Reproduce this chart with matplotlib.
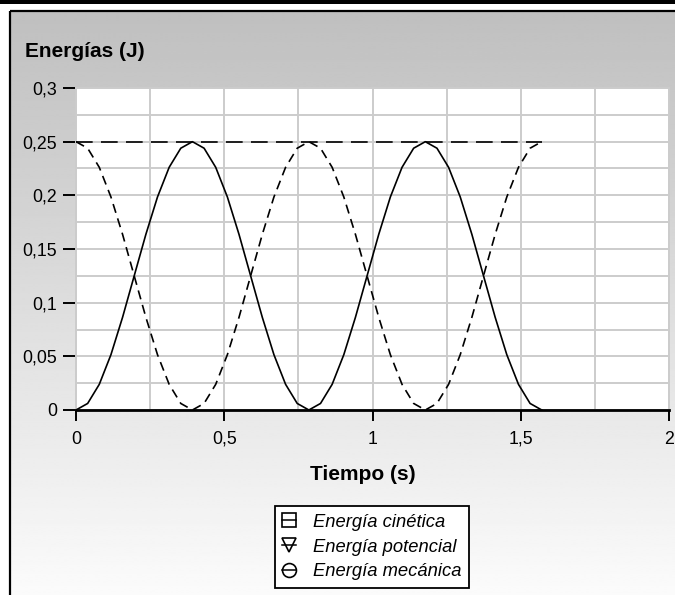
import matplotlib
matplotlib.use("Agg")
import matplotlib.pyplot as plt
import numpy as np
from matplotlib.lines import Line2D
from matplotlib.ticker import MultipleLocator, FixedLocator

plt.rcParams['font.family'] = ['Liberation Sans', 'DejaVu Sans']

# ---- data ----
tiempo = [0, 0.0393, 0.0785, 0.1178, 0.1571, 0.1963, 0.2356, 0.2749, 0.3142, 0.3534,
          0.3927, 0.4320, 0.4712, 0.5105, 0.5498, 0.5890, 0.6283, 0.6676, 0.7069, 0.7461,
          0.7854, 0.8247, 0.8639, 0.9032, 0.9425, 0.9817, 1.0210, 1.0603, 1.0996, 1.1388,
          1.1781, 1.2174, 1.2566, 1.2959, 1.3352, 1.3744, 1.4137, 1.4530, 1.4923, 1.5315,
          1.5708]
e_cinetica = [0, 0.0061, 0.0239, 0.0515, 0.0864, 0.125, 0.1636, 0.1985, 0.2261, 0.2439,
              0.25, 0.2439, 0.2261, 0.1985, 0.1636, 0.125, 0.0864, 0.0515, 0.0239, 0.0061,
              0, 0.0061, 0.0239, 0.0515, 0.0864, 0.125, 0.1636, 0.1985, 0.2261, 0.2439,
              0.25, 0.2439, 0.2261, 0.1985, 0.1636, 0.125, 0.0864, 0.0515, 0.0239, 0.0061,
              0]
e_potencial = [0.25, 0.2439, 0.2261, 0.1985, 0.1636, 0.125, 0.0864, 0.0515, 0.0239, 0.0061,
               0, 0.0061, 0.0239, 0.0515, 0.0864, 0.125, 0.1636, 0.1985, 0.2261, 0.2439,
               0.25, 0.2439, 0.2261, 0.1985, 0.1636, 0.125, 0.0864, 0.0515, 0.0239, 0.0061,
               0, 0.0061, 0.0239, 0.0515, 0.0864, 0.125, 0.1636, 0.1985, 0.2261, 0.2439,
               0.25]
e_mecanica = [0.25] * 41

x_ticks = [0, 0.5, 1, 1.5, 2]
x_labels = ['0', '0,5', '1', '1,5', '2']
y_ticks = [0, 0.05, 0.1, 0.15, 0.2, 0.25, 0.3]
y_labels = ['0', '0,05', '0,1', '0,15', '0,2', '0,25', '0,3']
series_names = ['Energía cinética', 'Energía potencial', 'Energía mecánica']

W, H = 675, 595
fig = plt.figure(figsize=(W / 100, H / 100), dpi=100)
fig.patch.set_facecolor('white')

# ---- background frame with gradient ----
bg = fig.add_axes([0, 0, 1, 1], zorder=0)
bg.axis('off')
grad = np.linspace(0.75, 0.985, 256).reshape(-1, 1)
bg.imshow(grad, cmap='gray', vmin=0, vmax=1, aspect='auto',
          extent=[10, W + 1, H + 1, 11], interpolation='bilinear')
bg.fill_between([0, W], 0, 4, color='black', lw=0)
bg.plot([10, 10], [11, H + 1], color='black', lw=1.6, solid_capstyle='butt')
bg.plot([10, W + 1], [11, 11], color='black', lw=1.6, solid_capstyle='butt')
bg.set_xlim(0, W)
bg.set_ylim(H, 0)

# ---- main axes ----
ax = fig.add_axes([76 / W, 185 / H, 593 / W, 322 / H], zorder=1)
ax.set_facecolor('white')
ax.set_xlim(0, 2)
ax.set_ylim(0, 0.3)

gridc = '#cccccc'
ax.xaxis.set_minor_locator(MultipleLocator(0.25))
ax.yaxis.set_minor_locator(MultipleLocator(0.025))
ax.grid(which='both', color=gridc, lw=1.4, zorder=0)
ax.set_axisbelow(True)

ax.xaxis.set_major_locator(FixedLocator(x_ticks))
ax.set_xticklabels(x_labels)
ax.yaxis.set_major_locator(FixedLocator(y_ticks))
ax.set_yticklabels(y_labels)
ax.tick_params(which='minor', length=0)
ax.tick_params(axis='x', which='major', direction='out', length=8, width=1.4,
               color='black', labelsize=12.8, pad=7)
ax.tick_params(axis='y', which='major', direction='out', length=9.5, width=1.4,
               color='black', labelsize=12.8, pad=4)

for s in ['left', 'top', 'right']:
    ax.spines[s].set_color(gridc)
    ax.spines[s].set_linewidth(1.4)
ax.spines['bottom'].set_color('black')
ax.spines['bottom'].set_linewidth(2)
ax.spines['bottom'].set_zorder(5)

ax.plot(tiempo, e_cinetica, color='black', lw=1.2, zorder=3, clip_on=False)
ax.plot(tiempo, e_potencial, color='black', lw=1.2, dashes=(5.5, 3.5), zorder=3)
ax.plot(tiempo, e_mecanica, color='black', lw=1.2, dashes=(10, 5), zorder=3)

# ---- texts ----
fig.text(25 / W, 1 - 57 / H, 'Energías (J)', fontsize=15, fontweight='bold',
         ha='left', va='baseline')
fig.text(363 / W, 1 - 474 / H, 'Tiempo (s)', fontsize=15, fontweight='bold',
         ha='center', va='center')

# ---- legend ----
handles = [
    Line2D([], [], color='black', lw=1.1, marker='s', ms=10, mfc='none', mec='black', mew=1.2),
    Line2D([], [], color='black', lw=1.1, marker='v', ms=10, mfc='none', mec='black', mew=1.2),
    Line2D([], [], color='black', lw=1.1, marker='o', ms=10, mfc='none', mec='black', mew=1.2),
]
leg = fig.legend(handles, series_names, loc='center',
                 bbox_to_anchor=(372 / W, 1 - 547 / H),
                 prop={'style': 'italic', 'size': 13.2},
                 handlelength=0.72, handletextpad=0.95, labelspacing=0.42,
                 borderpad=0.42, frameon=True, fancybox=False, framealpha=1,
                 edgecolor='black', borderaxespad=0)
leg.get_frame().set_linewidth(1.3)
leg.set_zorder(10)

fig.savefig('out.png', dpi=100, facecolor='white')
